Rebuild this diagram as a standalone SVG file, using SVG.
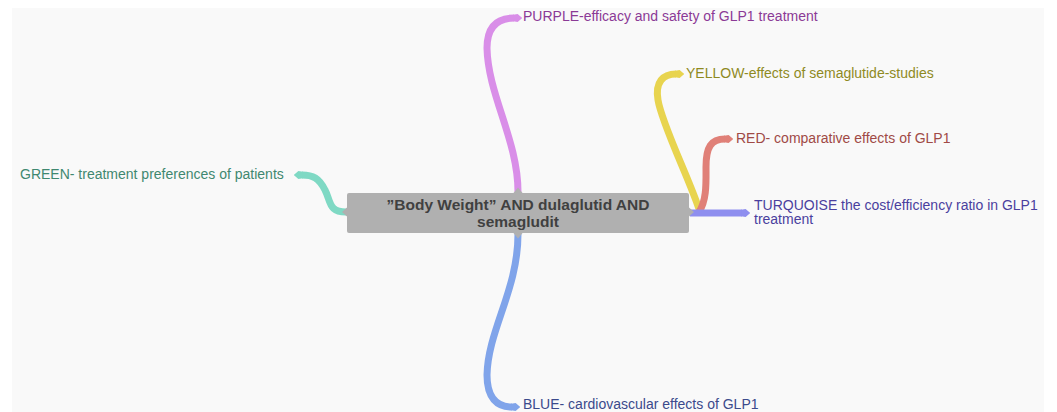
<svg xmlns="http://www.w3.org/2000/svg" width="1057" height="412" viewBox="0 0 1057 412">
<style>
.rib{fill:none;stroke-width:7;stroke-linecap:butt}
.lbl{font-family:"Liberation Sans",Arial,sans-serif;font-size:14px}
.ctr{font-family:"Liberation Sans",Arial,sans-serif;font-size:15.5px;font-weight:bold;fill:#404040;text-anchor:middle}
</style>
<defs>
<marker id="mP" viewBox="0 0 10 10" refX="1" refY="5" markerUnits="strokeWidth" markerWidth="1.3" markerHeight="1.3" orient="auto"><path d="M0,1.5 L5,0.5 L10,5 L5,9.5 L0,8.5Z" fill="#d98ee8"/></marker>
<marker id="mY" viewBox="0 0 10 10" refX="1" refY="5" markerUnits="strokeWidth" markerWidth="1.3" markerHeight="1.3" orient="auto"><path d="M0,1.5 L5,0.5 L10,5 L5,9.5 L0,8.5Z" fill="#e8d44f"/></marker>
<marker id="mR" viewBox="0 0 10 10" refX="1" refY="5" markerUnits="strokeWidth" markerWidth="1.3" markerHeight="1.3" orient="auto"><path d="M0,1.5 L5,0.5 L10,5 L5,9.5 L0,8.5Z" fill="#e08078"/></marker>
<marker id="mT" viewBox="0 0 10 10" refX="1" refY="5" markerUnits="strokeWidth" markerWidth="1.3" markerHeight="1.3" orient="auto"><path d="M0,1.5 L5,0.5 L10,5 L5,9.5 L0,8.5Z" fill="#8f8fef"/></marker>
<marker id="mG" viewBox="0 0 10 10" refX="1" refY="5" markerUnits="strokeWidth" markerWidth="1.3" markerHeight="1.3" orient="auto"><path d="M0,1.5 L5,0.5 L10,5 L5,9.5 L0,8.5Z" fill="#7fd9c4"/></marker>
<marker id="mB" viewBox="0 0 10 10" refX="1" refY="5" markerUnits="strokeWidth" markerWidth="1.3" markerHeight="1.3" orient="auto"><path d="M0,1.5 L5,0.5 L10,5 L5,9.5 L0,8.5Z" fill="#80a4ea"/></marker>
</defs>
<rect x="0" y="0" width="1057" height="412" fill="#ffffff"/>
<rect x="12" y="8" width="1032" height="404" fill="#f9f9f9"/>
<g id="connectors">
<path class="rib" stroke="#d98ee8" d="M518,192 C518,140 488,95 487,48 C487,27 497,18 514,18" marker-end="url(#mP)"/>
<path class="rib" stroke="#80a4ea" d="M518,234 C518,290 488,330 487,375 C487,398 497,407 512,407" marker-end="url(#mB)"/>
<path class="rib" stroke="#e8d44f" d="M700,212 C690,180 662,125 658,100 C655,82 663,74 676,74" marker-end="url(#mY)"/>
<path class="rib" stroke="#e08078" d="M699,212 C707,200 706,182 706,167 C706,147 711,139 725,139" marker-end="url(#mR)"/>
<path class="rib" stroke="#8f8fef" d="M690,213 L742,213" marker-end="url(#mT)"/>
<path class="rib" stroke="#7fd9c4" d="M348,212 C328,213 331,201 325,190 C319,178 313,175 302,175" marker-end="url(#mG)"/>
</g>
<g id="center">
<rect x="347" y="193" width="342" height="40" rx="2" fill="#b0b0b0"/>
<path d="M513,193.5 L518,187.5 L523,193.5Z M513,232.5 L518,238.5 L523,232.5Z M347.5,207 L342,212 L347.5,217Z M688.5,207 L694,212 L688.5,217Z" fill="#b0b0b0"/>
<text class="ctr" x="518" y="210">”Body Weight” AND dulaglutid AND</text>
<text class="ctr" x="518" y="227">semagludit</text>
</g>
<g id="purple"><text class="lbl" x="523" y="21" fill="#8b3a96">PURPLE-efficacy and safety of GLP1 treatment</text></g>
<g id="yellow"><text class="lbl" x="686" y="78" fill="#8f8a1f">YELLOW-effects of semaglutide-studies</text></g>
<g id="red"><text class="lbl" x="736" y="143" fill="#a04a46">RED- comparative effects of GLP1</text></g>
<g id="turquoise"><text class="lbl" x="754" y="210" fill="#4a3f9e">TURQUOISE the cost/efficiency ratio in GLP1</text><text class="lbl" x="754" y="224" fill="#4a3f9e">treatment</text></g>
<g id="green"><text class="lbl" x="20" y="179" fill="#3f8870">GREEN- treatment preferences of patients</text></g>
<g id="blue"><text class="lbl" x="523" y="409" fill="#3b4a8c">BLUE- cardiovascular effects of GLP1</text></g>
</svg>
